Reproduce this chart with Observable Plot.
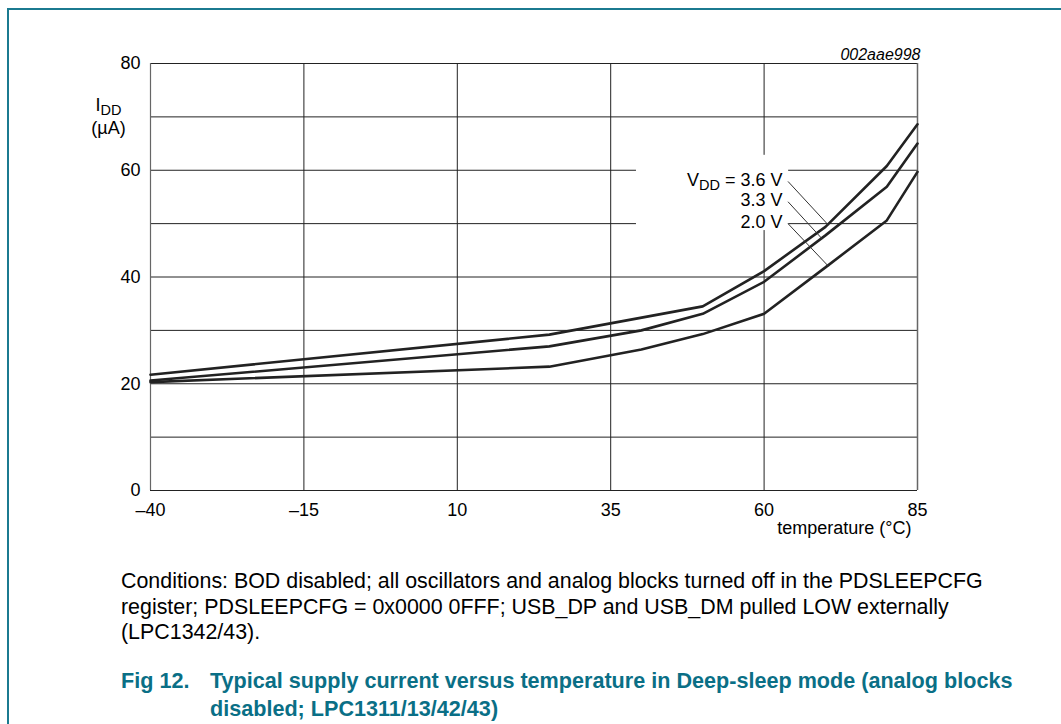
<!DOCTYPE html>
<html><head><meta charset="utf-8">
<script src="https://cdn.jsdelivr.net/npm/d3@7"></script>
<script src="https://cdn.jsdelivr.net/npm/@observablehq/plot@0.6"></script>
<style>
body{margin:0;background:#fff;font-family:"Liberation Sans",Arial,sans-serif;}
#wrap{position:relative;width:1061px;height:724px;overflow:hidden;background:#fff;}
#bl{position:absolute;left:7px;top:8px;width:2px;height:716px;background:#1b7a90;}
#bt{position:absolute;left:7px;top:8px;width:1054px;height:2px;background:#1b7a90;}
#chart{position:absolute;left:0;top:0;}
#cap{position:absolute;left:121px;top:569px;font-size:21.4px;line-height:25.5px;color:#000;white-space:nowrap;}
#title{position:absolute;left:121px;top:667px;font-size:21.6px;line-height:27.5px;font-weight:bold;color:#0a6f86;display:flex;white-space:nowrap;}
#title .num{width:89px;flex:none;}
</style>
</head><body>
<div id="wrap">
  <div id="chart"></div>
  <div id="bl"></div><div id="bt"></div>
  <div id="cap">Conditions: BOD disabled; all oscillators and analog blocks turned off in the PDSLEEPCFG<br>register; PDSLEEPCFG = 0x0000 0FFF; USB_DP and USB_DM pulled LOW externally<br>(LPC1342/43).</div>
  <div id="title"><span class="num">Fig 12.</span><span>Typical supply current versus temperature in Deep-sleep mode (analog blocks<br>disabled; LPC1311/13/42/43)</span></div>
</div>
<script>
// ---- data ----
const temp36 = [-40, 25, 50, 60, 70, 80, 85];
const idd36  = [21.7, 29.2, 34.5, 41.1, 49.4, 60.8, 68.6];
const temp33 = [-40, 25, 40, 50, 60, 70, 80, 85];
const idd33  = [20.6, 27.0, 30.0, 33.1, 39.1, 47.8, 56.9, 65.0];
const temp20 = [-40, 25, 40, 50, 60, 70, 80, 85];
const idd20  = [20.3, 23.2, 26.4, 29.3, 33.1, 41.8, 50.6, 59.7];
const seriesNames = ["3.6 V", "3.3 V", "2.0 V"];
const labelTexts = ["VDD = 3.6 V", "3.3 V", "2.0 V"];
const labelX = [63, 63, 63];
const labelY = [58.1, 54.3, 50.2];
const pointerX1 = [63.9, 63.9, 63.9];
const pointerY1 = [57.9, 54.1, 50.0];
const pointerX2 = [70.5, 69.5, 70.5];
const pointerY2 = [49.7, 47.1, 42.0];
const labelBox = {x1: 39.2, x2: 64.0, y1: 48.7, y2: 62.8};
const xTicks = [-40, -15, 10, 35, 60, 85];
const yTicks = [0, 20, 40, 60, 80];
const xGrid = [-40, -15, 10, 35, 60, 85];
const yGrid = [0, 10, 20, 30, 40, 50, 60, 70, 80];
const figId = "002aae998";
const xLabel = "temperature (°C)";
const yLabel1 = "IDD";
const yLabel2 = "(µA)";

// ---- build tables ----
const rows = [];
[[temp36, idd36], [temp33, idd33], [temp20, idd20]].forEach(([t, v], i) => {
  t.forEach((x, j) => rows.push({series: seriesNames[i], t: x, i: v[j]}));
});
const labels = labelTexts.map((s, i) => ({s, x: labelX[i], y: labelY[i]}));
const pointers = labelTexts.map((s, i) => ({x1: pointerX1[i], y1: pointerY1[i], x2: pointerX2[i], y2: pointerY2[i]}));

const ink = "#222";
const fmtX = d => d < 0 ? "\u2013" + Math.abs(d) : String(d);
const plot = Plot.plot({
  width: 1061,
  height: 560,
  marginLeft: 150,
  marginRight: 144,
  marginTop: 63,
  marginBottom: 70,
  style: {fontFamily: '"Liberation Sans", Arial, sans-serif', fontSize: "18px", color: "#000", background: "transparent"},
  x: {domain: [-40, 85], label: null},
  y: {domain: [0, 80], label: null},
  marks: [
    Plot.ruleY(yGrid, {stroke: ink, strokeWidth: 1}),
    Plot.ruleX(xGrid, {stroke: ink, strokeWidth: 1}),
    Plot.rect([labelBox], {x1: "x1", x2: "x2", y1: "y1", y2: "y2", fill: "white"}),
    Plot.ruleX([85], {stroke: "#666", strokeWidth: 1.5}),
    Plot.ruleX([-40], {stroke: "#666", strokeWidth: 1.2}),
    Plot.line(rows, {x: "t", y: "i", z: "series", stroke: ink, strokeWidth: 2.6, strokeLinejoin: "miter"}),
    Plot.link(pointers, {x1: "x1", y1: "y1", x2: "x2", y2: "y2", stroke: "#333", strokeWidth: 1}),
    Plot.text(labels, {x: "x", y: "y", text: "s", textAnchor: "end", fontSize: 18, fill: "#000"}),
    Plot.axisX({ticks: xTicks, tickFormat: fmtX, tickSize: 0, tickPadding: 13, label: null, fontSize: 18, fill: "#000"}),
    Plot.axisY({ticks: yTicks, tickSize: 0, tickPadding: 10, label: null, fontSize: 18, fill: "#000"}),
    Plot.text([xLabel], {frameAnchor: "bottom-right", dx: -6, dy: 43, textAnchor: "end", fontSize: 18, fill: "#000"}),
    Plot.text([figId], {frameAnchor: "top-right", dx: 3, dy: -15, textAnchor: "end", fontSize: 16, fontStyle: "italic", fill: "#000"}),
    Plot.text([yLabel1], {frameAnchor: "top-left", dx: -42, dy: 35, textAnchor: "middle", fontSize: 18, fill: "#000"}),
    Plot.text([yLabel2], {frameAnchor: "top-left", dx: -42, dy: 58, textAnchor: "middle", fontSize: 18, fill: "#000"})
  ]
});
document.getElementById("chart").appendChild(plot);

// subscripts
d3.select(plot).selectAll("text").each(function() {
  const el = d3.select(this);
  const txt = this.textContent;
  const m = /^([VI])DD(.*)$/.exec(txt);
  if (!m) return;
  el.text(null);
  el.append("tspan").text(m[1]);
  el.append("tspan").attr("dy", 4).attr("font-size", 14.5).text("DD");
  if (m[2]) el.append("tspan").attr("dy", -4).text(m[2]);
});
</script>
</body></html>
